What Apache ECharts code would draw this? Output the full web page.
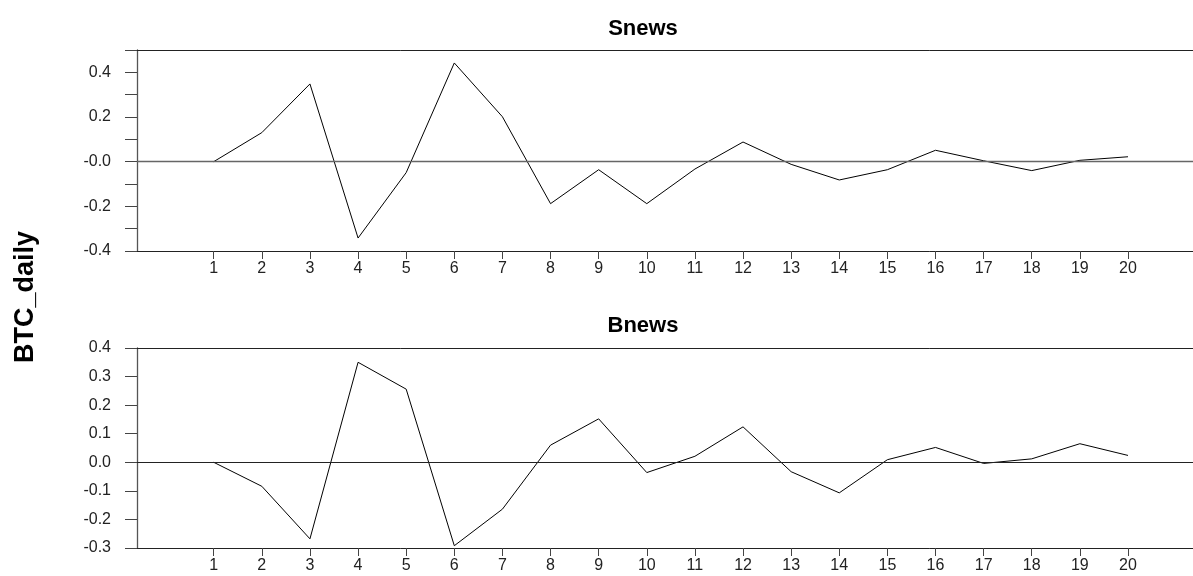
<!DOCTYPE html>
<html>
<head>
<meta charset="utf-8">
<script src="https://cdn.jsdelivr.net/npm/echarts@6/dist/echarts.min.js"></script>
<style>
html,body{margin:0;padding:0;background:#fff;}
#chart{width:1193px;height:576px;}
</style>
</head>
<body>
<div id="chart"></div>
<script>
// ---- data ----
const lags = [1,2,3,4,5,6,7,8,9,10,11,12,13,14,15,16,17,18,19,20];
const snews = [0.0,0.13,0.348,-0.342,-0.049,0.442,0.201,-0.188,-0.036,-0.188,-0.033,0.088,-0.012,-0.082,-0.036,0.051,0.004,-0.040,0.006,0.022];
const bnews = [0.0,-0.084,-0.268,0.350,0.256,-0.292,-0.164,0.060,0.152,-0.036,0.021,0.124,-0.033,-0.107,0.009,0.052,-0.004,0.012,0.065,0.024];
const snewsTickLabels = [0.4,0.2,0.0,-0.2,-0.4];
const bnewsTickLabels = [0.4,0.3,0.2,0.1,0.0,-0.1,-0.2,-0.3];
const panelTitles = ['Snews','Bnews'];
const yAxisTitle = 'BTC_daily';

const FONT = 'Liberation Sans, Arial, sans-serif';
const chart = echarts.init(document.getElementById('chart'), null, {renderer:'canvas'});

function pairs(vals){ return vals.map((v,i)=>[lags[i], v]); }
function labelFmt(list, zeroText){
  return function(v){
    const r = Math.round(v*10)/10;
    for (const t of list){ if (Math.abs(t - r) < 1e-9 && Math.abs(v - r) < 1e-6){ return Math.abs(r) < 1e-9 ? zeroText : r.toFixed(1); } }
    return '';
  };
}

const grids = [
  {left:137, right:0, top:50, height:201},
  {left:137, right:0, top:348, height:200}
];
const xCommon = {
  type:'value', min:-0.594, max:21.351,
  axisLine:{show:true, onZero:false, lineStyle:{color:'#222', width:1}},
  axisTick:{show:true, customValues:lags, length:8, lineStyle:{color:'#444'}},
  axisLabel:{show:true, customValues:lags, color:'#222', fontFamily:FONT, fontSize:16, margin:10},
  splitLine:{show:false}
};
const xTop = {
  type:'value', position:'top', min:-0.594, max:21.351,
  axisLine:{show:true, onZero:false, lineStyle:{color:'#222', width:1}},
  axisTick:{show:false}, axisLabel:{show:false}, splitLine:{show:false}
};
function yAxis(gi, min, max, list, zeroText){
  return {
    type:'value', gridIndex:gi, min:min, max:max, interval:0.1,
    axisLine:{show:true, onZero:false, lineStyle:{color:'#555', width:1.3}},
    axisTick:{show:true, length:12, lineStyle:{color:'#444'}},
    axisLabel:{show:true, color:'#222', fontFamily:FONT, fontSize:16, margin:26, formatter:labelFmt(list, zeroText)},
    splitLine:{show:false}
  };
}

const option = {
  animation:false,
  backgroundColor:'#fff',
  grid:grids,
  xAxis:[
    Object.assign({gridIndex:0}, xCommon),
    Object.assign({gridIndex:1}, xCommon),
    Object.assign({gridIndex:0}, xTop),
    Object.assign({gridIndex:1}, xTop)
  ],
  yAxis:[
    yAxis(0, -0.4, 0.5, snewsTickLabels, '-0.0'),
    yAxis(1, -0.3, 0.4, bnewsTickLabels, '0.0')
  ],
  series:[
    {name:panelTitles[0], type:'line', xAxisIndex:0, yAxisIndex:0, data:pairs(snews), showSymbol:false, symbol:'none',
     lineStyle:{color:'#000', width:1}, silent:true,
     markLine:{silent:true, symbol:'none', label:{show:false}, lineStyle:{color:'#666', type:'solid', width:1.3}, data:[{yAxis:0}]}},
    {name:panelTitles[1], type:'line', xAxisIndex:1, yAxisIndex:1, data:pairs(bnews), showSymbol:false, symbol:'none',
     lineStyle:{color:'#000', width:1}, silent:true,
     markLine:{silent:true, symbol:'none', label:{show:false}, lineStyle:{color:'#222', type:'solid', width:1}, data:[{yAxis:0}]}}
  ],
  graphic:[
    {type:'text', style:{text:panelTitles[0], x:643, y:29, textAlign:'center', textVerticalAlign:'middle', font:'bold 22px '+FONT, fill:'#000'}},
    {type:'text', style:{text:panelTitles[1], x:643, y:326, textAlign:'center', textVerticalAlign:'middle', font:'bold 22px '+FONT, fill:'#000'}},
    {type:'text', x:26, y:297, rotation:Math.PI/2, style:{text:yAxisTitle, x:0, y:0, textAlign:'center', textVerticalAlign:'middle', font:'bold 27px '+FONT, fill:'#000'}}
  ]
};
chart.setOption(option);
</script>
</body>
</html>
